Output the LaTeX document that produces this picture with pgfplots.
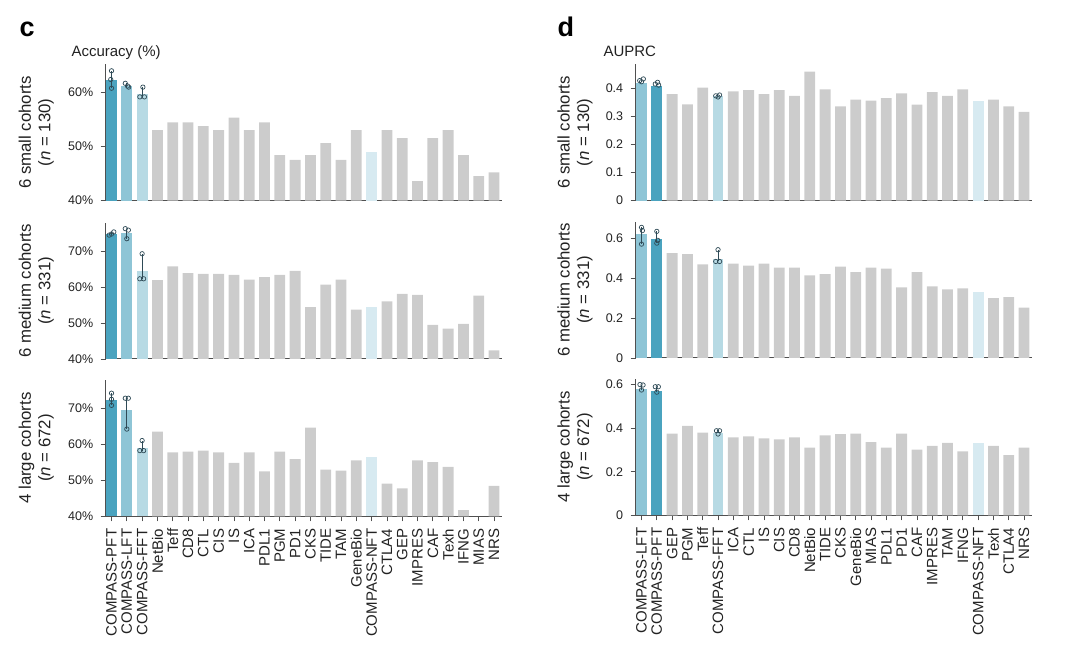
\documentclass[border=0pt]{standalone}
\usepackage{pgfplots}
\pgfplotsset{compat=1.18}
\usepackage{fontspec}
\setmainfont{Liberation Sans}
\definecolor{cpft}{HTML}{4AA3BF}
\definecolor{clft}{HTML}{8EC5D6}
\definecolor{cfft}{HTML}{B7DAE4}
\definecolor{cnft}{HTML}{D7EAF1}
\definecolor{cgray}{HTML}{CCCCCC}
\definecolor{errc}{HTML}{2E4A56}
\definecolor{axc}{HTML}{505050}
\definecolor{txt}{HTML}{222222}
\pgfplotsset{
  panel/.style={
    scale only axis, width=396pt, height=136.4pt,
    xmin=-0.38, xmax=25.5,
    axis x line=bottom, axis y line=left,
    axis line style={-, draw=axc, line width=1pt},
    tick style={draw=axc, line width=0.8pt},
    tick align=outside, major tick length=5pt,
    xtick=\empty,
    yticklabel shift=4pt,
    /pgf/number format/assume math mode=true,
    y tick label style={font=\fontsize{12.5}{14}\selectfont, text=txt},
    ylabel style={align=center, font=\fontsize{16.8}{19.5}\selectfont, text=txt},
    every axis y label/.append style={anchor=center, rotate=0},
  },
  bars/.style={ybar, bar width=10.8pt, bar shift=0pt, draw=none, fill=#1},
  errl/.style={sharp plot, draw=errc, line width=0.8pt, mark=none},
  errp/.style={only marks, mark=o, mark size=2.2pt, draw=errc, line width=0.7pt},
  botx/.style={
    xtick={0,...,25},
    xticklabel shift=4pt,
    x tick label style={rotate=90, anchor=east, font=\fontsize{15}{16}\selectfont, text=txt},
  },
  pct/.style={yticklabel={\pgfmathprintnumber{\tick}\%}},
  dec/.style={yticklabel style={/pgf/number format/.cd, fixed, precision=1}},
}
\begin{document}
\begin{tikzpicture}
\useasboundingbox (0,0) rectangle (1080pt,663pt);
\node[anchor=base west, font=\bfseries\fontsize{27}{27}\selectfont, text=black] at (16pt,626pt) {c};
\node[anchor=base west, font=\bfseries\fontsize{27}{27}\selectfont, text=black] at (554pt,626pt) {d};
\node[anchor=base west, font=\fontsize{15}{18}\selectfont, text=txt] at (68pt,606pt) {Accuracy (\%)};
\node[anchor=base west, font=\fontsize{15}{18}\selectfont, text=txt] at (600pt,606pt) {AUPRC};

% ---------- c top ----------
\begin{axis}[panel, pct, at={(105.7pt,462.3pt)}, anchor=south west,
  ymin=40, ymax=65.1, ytick={40,50,60},
  ylabel={6 small cohorts\\(\textit{n} = 130)},
  ylabel style={at={(axis description cs:-0.175,0.5)}}]
\addplot[bars=cgray] coordinates {(3,53.0)(4,54.4)(5,54.4)(6,53.7)(7,53.0)(8,55.3)(9,53.0)(10,54.4)(11,48.4)(12,47.5)(13,48.4)(14,50.6)(15,47.5)(16,53.0)(18,53.0)(19,51.5)(20,43.6)(21,51.5)(22,53.0)(23,48.4)(24,44.5)(25,45.2)};
\addplot[bars=cpft] coordinates {(0,62.2)};
\addplot[bars=clft] coordinates {(1,61.1)};
\addplot[bars=cfft] coordinates {(2,59.6)};
\addplot[bars=cnft] coordinates {(17,49.0)};
\addplot[errl] coordinates {(0,60.7)(0,63.9)};
\addplot[errl] coordinates {(1,60.9)(1,61.6)};
\addplot[errl] coordinates {(2,59.1)(2,60.9)};
\addplot[errp] coordinates {(0,63.9)(-0.05,62.3)(0,60.7)(0.9,61.6)(1.05,61.1)(1.12,60.9)(2.05,60.9)(1.85,59.1)(2.15,59.1)};
\end{axis}

% ---------- c middle ----------
\begin{axis}[panel, pct, at={(105.7pt,304pt)}, anchor=south west,
  ymin=40, ymax=78.1, ytick={40,50,60,70},
  ylabel={6 medium cohorts\\(\textit{n} = 331)},
  ylabel style={at={(axis description cs:-0.175,0.5)}}]
\addplot[bars=cgray] coordinates {(3,62.0)(4,65.9)(5,64.0)(6,63.8)(7,63.8)(8,63.5)(9,62.2)(10,62.9)(11,63.5)(12,64.6)(13,54.5)(14,60.8)(15,62.2)(16,53.8)(18,56.1)(19,58.2)(20,57.9)(21,49.5)(22,48.5)(23,49.8)(24,57.7)(25,42.4)};
\addplot[bars=cpft] coordinates {(0,74.8)};
\addplot[bars=clft] coordinates {(1,75.1)};
\addplot[bars=cfft] coordinates {(2,64.6)};
\addplot[bars=cnft] coordinates {(17,54.5)};
\addplot[errl] coordinates {(0,74.6)(0,75.5)};
\addplot[errl] coordinates {(1,73.6)(1,76.4)};
\addplot[errl] coordinates {(2,62.4)(2,69.4)};
\addplot[errp] coordinates {(-0.15,74.6)(0,74.9)(0.15,75.5)(0.9,76.4)(1.1,76.0)(1,73.6)(2,69.4)(1.85,62.4)(2.1,62.4)};
\end{axis}

% ---------- c bottom ----------
\begin{axis}[panel, pct, botx, at={(105.7pt,146.7pt)}, anchor=south west,
  ymin=40, ymax=78, ytick={40,50,60,70},
  xticklabels={COMPASS-PFT,COMPASS-LFT,COMPASS-FFT,NetBio,Teff,CD8,CTL,CIS,IS,ICA,PDL1,PGM,PD1,CKS,TIDE,TAM,GeneBio,COMPASS-NFT,CTLA4,GEP,IMPRES,CAF,Texh,IFNG,MIAS,NRS},
  ylabel={4 large cohorts\\(\textit{n} = 672)},
  ylabel style={at={(axis description cs:-0.175,0.5)}}]
\addplot[bars=cgray] coordinates {(3,63.6)(4,57.8)(5,58.0)(6,58.3)(7,57.8)(8,54.9)(9,57.8)(10,52.5)(11,58.0)(12,55.9)(13,64.7)(14,53.0)(15,52.7)(16,55.6)(18,49.1)(19,47.8)(20,55.6)(21,55.1)(22,53.8)(23,41.7)(25,48.5)};
\addplot[bars=cpft] coordinates {(0,72.3)};
\addplot[bars=clft] coordinates {(1,69.6)};
\addplot[bars=cfft] coordinates {(2,59.0)};
\addplot[bars=cnft] coordinates {(17,56.6)};
\addplot[errl] coordinates {(0,70.9)(0,74.3)};
\addplot[errl] coordinates {(1,64.3)(1,72.9)};
\addplot[errl] coordinates {(2,58.3)(2,61.1)};
\addplot[errp] coordinates {(0,74.3)(0,72.6)(0,70.9)(0.9,72.9)(1.1,72.9)(1,64.3)(2,61.1)(1.85,58.3)(2.1,58.3)};
\end{axis}

% ---------- d top ----------
\begin{axis}[panel, dec, at={(635.7pt,462.3pt)}, anchor=south west,
  ymin=0, ymax=0.484, ytick={0,0.1,0.2,0.3,0.4},
  ylabel={6 small cohorts\\(\textit{n} = 130)},
  ylabel style={at={(axis description cs:-0.153,0.5)}}]
\addplot[bars=cgray] coordinates {(2,0.378)(3,0.342)(4,0.401)(6,0.388)(7,0.392)(8,0.378)(9,0.392)(10,0.372)(11,0.458)(12,0.395)(13,0.335)(14,0.359)(15,0.355)(16,0.364)(17,0.381)(18,0.341)(19,0.385)(20,0.372)(21,0.395)(23,0.359)(24,0.335)(25,0.315)};
\addplot[bars=clft] coordinates {(0,0.418)};
\addplot[bars=cpft] coordinates {(1,0.407)};
\addplot[bars=cfft] coordinates {(5,0.372)};
\addplot[bars=cnft] coordinates {(22,0.355)};
\addplot[errp] coordinates {(-0.12,0.426)(0.12,0.432)(0,0.422)(0.9,0.414)(1.05,0.420)(1.12,0.410)(4.85,0.372)(5.1,0.375)(5,0.368)};
\end{axis}

% ---------- d middle ----------
\begin{axis}[panel, dec, at={(635.7pt,305pt)}, anchor=south west,
  ymin=0, ymax=0.684, ytick={0,0.2,0.4,0.6},
  ylabel={6 medium cohorts\\(\textit{n} = 331)},
  ylabel style={at={(axis description cs:-0.153,0.5)}}]
\addplot[bars=cgray] coordinates {(2,0.526)(3,0.521)(4,0.470)(6,0.473)(7,0.463)(8,0.473)(9,0.453)(10,0.453)(11,0.414)(12,0.420)(13,0.458)(14,0.430)(15,0.453)(16,0.448)(17,0.354)(18,0.430)(19,0.359)(20,0.344)(21,0.349)(23,0.300)(24,0.305)(25,0.253)};
\addplot[bars=clft] coordinates {(0,0.620)};
\addplot[bars=cpft] coordinates {(1,0.597)};
\addplot[bars=cfft] coordinates {(5,0.495)};
\addplot[bars=cnft] coordinates {(22,0.332)};
\addplot[errl] coordinates {(0,0.571)(0,0.655)};
\addplot[errl] coordinates {(1,0.576)(1,0.635)};
\addplot[errl] coordinates {(5,0.484)(5,0.543)};
\addplot[errp] coordinates {(0,0.655)(0.06,0.639)(0,0.571)(1,0.635)(1.06,0.590)(1,0.576)(5,0.543)(4.85,0.484)(5.1,0.484)};
\end{axis}

% ---------- d bottom ----------
\begin{axis}[panel, dec, botx, at={(635.7pt,147.7pt)}, anchor=south west,
  ymin=0, ymax=0.626, ytick={0,0.2,0.4,0.6},
  xticklabels={COMPASS-LFT,COMPASS-PFT,GEP,PGM,Teff,COMPASS-FFT,ICA,CTL,IS,CIS,CD8,NetBio,TIDE,CKS,GeneBio,MIAS,PDL1,PD1,CAF,IMPRES,TAM,IFNG,COMPASS-NFT,Texh,CTLA4,NRS},
  ylabel={4 large cohorts\\(\textit{n} = 672)},
  ylabel style={at={(axis description cs:-0.153,0.5)}}]
\addplot[bars=cgray] coordinates {(2,0.375)(3,0.410)(4,0.379)(6,0.358)(7,0.362)(8,0.353)(9,0.348)(10,0.358)(11,0.311)(12,0.367)(13,0.372)(14,0.375)(15,0.336)(16,0.311)(17,0.375)(18,0.301)(19,0.319)(20,0.332)(21,0.293)(23,0.319)(24,0.276)(25,0.311)};
\addplot[bars=clft] coordinates {(0,0.580)};
\addplot[bars=cpft] coordinates {(1,0.572)};
\addplot[bars=cfft] coordinates {(5,0.376)};
\addplot[bars=cnft] coordinates {(22,0.332)};
\addplot[errl] coordinates {(0,0.575)(0,0.600)};
\addplot[errl] coordinates {(1,0.565)(1,0.590)};
\addplot[errp] coordinates {(-0.1,0.600)(0.1,0.598)(0,0.575)(0.9,0.590)(1.1,0.590)(1,0.565)(4.9,0.388)(5.1,0.388)(5,0.373)};
\end{axis}
\end{tikzpicture}
\end{document}
